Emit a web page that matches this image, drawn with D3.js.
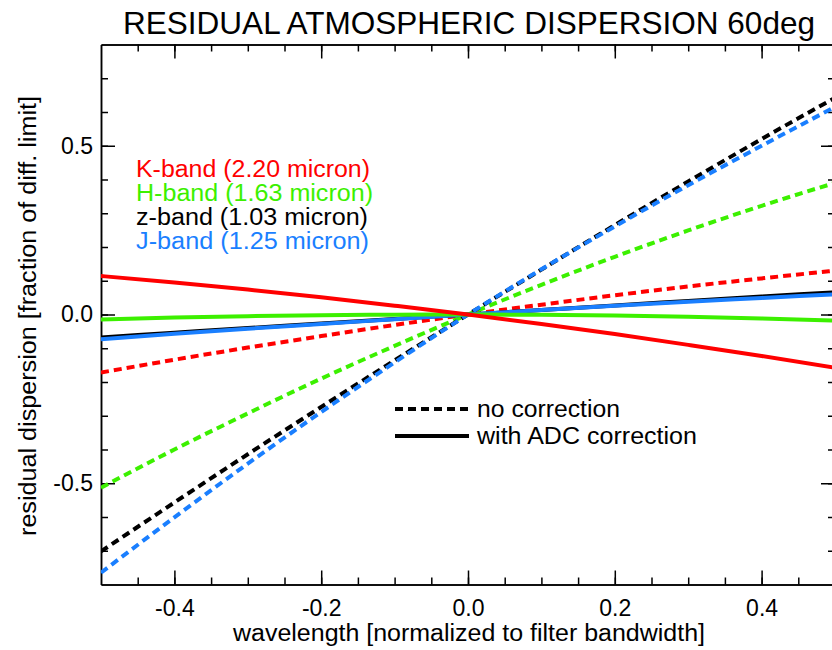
<!DOCTYPE html>
<html>
<head>
<meta charset="utf-8">
<script src="https://cdn.jsdelivr.net/npm/d3@7"></script>
<style>
  html, body { margin: 0; padding: 0; background: #fff; }
  svg { display: block; font-family: "Liberation Sans", Arial, Helvetica, sans-serif; }
  .axis path, .axis line { stroke: #000; stroke-width: 1.5; }
  .axis text { font-size: 23px; fill: #000; }
</style>
</head>
<body>
<svg id="chart" width="832" height="650"></svg>
<script>
// Wellenlaenge (normiert auf Filterbandbreite)
const wavelength = [-0.5, -0.4, -0.3, -0.2, -0.1, 0.0, 0.1, 0.2, 0.3, 0.4, 0.5];

// ohne Korrektur (gestrichelt)
const kNoCorr = [-0.172, -0.134, -0.098, -0.064, -0.031, 0, 0.029, 0.057, 0.083, 0.107, 0.130];
const hNoCorr = [-0.513, -0.400, -0.293, -0.190, -0.093, 0, 0.088, 0.171, 0.249, 0.322, 0.390];
const zNoCorr = [-0.702, -0.557, -0.414, -0.274, -0.136, 0, 0.133, 0.265, 0.394, 0.520, 0.642];
const jNoCorr = [-0.765, -0.601, -0.442, -0.289, -0.142, 0, 0.134, 0.261, 0.383, 0.500, 0.615];

// mit ADC-Korrektur (durchgezogen)
const kAdc = [0.114, 0.095, 0.074, 0.051, 0.026, 0, -0.028, -0.058, -0.090, -0.123, -0.158];
const hAdc = [-0.015, -0.009, -0.005, -0.002, -0.0005, 0, -0.001, -0.003, -0.007, -0.012, -0.018];
const zAdc = [-0.068, -0.054, -0.040, -0.027, -0.013, 0, 0.013, 0.027, 0.040, 0.053, 0.066];
const jAdc = [-0.073, -0.057, -0.042, -0.028, -0.014, 0, 0.013, 0.026, 0.038, 0.049, 0.060];

const bandLabels = ['K-band (2.20 micron)', 'H-band (1.63 micron)', 'z-band (1.03 micron)', 'J-band (1.25 micron)'];
const bandColors = ['#ff0000', '#3cf000', '#000000', '#1a7fff'];

const xMajor = [-0.4, -0.2, 0.0, 0.2, 0.4];
const xMinor = d3.range(-0.45, 0.5, 0.05);
const yMajor = [-0.5, 0.0, 0.5];
const yMinor = d3.range(-0.7, 0.8, 0.1);

const svg = d3.select('#chart');
const margin = { left: 101, right: 835, top: 44.5, bottom: 584.5 };

// Skalen
const x = d3.scaleLinear().domain([-0.5, 0.5]).range([margin.left, margin.right]);
const y = d3.scaleLinear().domain([-0.8, 0.8]).range([margin.bottom, margin.top]);

// Clip
svg.append('clipPath').attr('id', 'clip')
  .append('rect')
  .attr('x', margin.left).attr('y', margin.top)
  .attr('width', margin.right - margin.left)
  .attr('height', margin.bottom - margin.top);

const fmt = d => d.toFixed(1);

// Achsen
function addAxis(axis, transform) {
  svg.append('g').attr('class', 'axis').attr('transform', transform).call(axis);
}
addAxis(d3.axisBottom(x).tickValues(xMinor).tickSize(-7).tickSizeOuter(0).tickFormat(''), `translate(0,${margin.bottom})`);
addAxis(d3.axisBottom(x).tickValues(xMajor).tickSize(-14).tickSizeOuter(0).tickPadding(15).tickFormat(fmt), `translate(0,${margin.bottom})`);
addAxis(d3.axisTop(x).tickValues(xMinor).tickSize(-7).tickSizeOuter(0).tickFormat(''), `translate(0,${margin.top})`);
addAxis(d3.axisTop(x).tickValues(xMajor).tickSize(-14).tickSizeOuter(0).tickFormat(''), `translate(0,${margin.top})`);
addAxis(d3.axisLeft(y).tickValues(yMinor).tickSize(-7).tickSizeOuter(0).tickFormat(''), `translate(${margin.left},0)`);
addAxis(d3.axisLeft(y).tickValues(yMajor).tickSize(-14).tickSizeOuter(0).tickPadding(8).tickFormat(fmt), `translate(${margin.left},0)`);
addAxis(d3.axisRight(y).tickValues(yMinor).tickSize(-7).tickSizeOuter(0).tickFormat(''), `translate(${margin.right},0)`);
addAxis(d3.axisRight(y).tickValues(yMajor).tickSize(-14).tickSizeOuter(0).tickFormat(''), `translate(${margin.right},0)`);

// Linien
const line = d3.line()
  .x(d => x(d[0]))
  .y(d => y(d[1]))
  .curve(d3.curveMonotoneX);

const plot = svg.append('g').attr('clip-path', 'url(#clip)');

const dashed = [
  { v: kNoCorr, c: bandColors[0] },
  { v: hNoCorr, c: bandColors[1] },
  { v: zNoCorr, c: bandColors[2] },
  { v: jNoCorr, c: bandColors[3] }
];
const solid = [
  { v: zAdc, c: bandColors[2] },
  { v: jAdc, c: bandColors[3] },
  { v: hAdc, c: bandColors[1] },
  { v: kAdc, c: bandColors[0] }
];

dashed.forEach(s => {
  plot.append('path')
    .attr('d', line(wavelength.map((w, i) => [w, s.v[i]])))
    .attr('fill', 'none')
    .attr('stroke', s.c)
    .attr('stroke-width', 4)
    .attr('stroke-dasharray', '8,5');
});
solid.forEach(s => {
  plot.append('path')
    .attr('d', line(wavelength.map((w, i) => [w, s.v[i]])))
    .attr('fill', 'none')
    .attr('stroke', s.c)
    .attr('stroke-width', 4);
});

// Titel
svg.append('text')
  .attr('x', 469)
  .attr('y', 34)
  .attr('text-anchor', 'middle')
  .attr('textLength', 692)
  .attr('lengthAdjust', 'spacingAndGlyphs')
  .style('font-size', '32px')
  .text('RESIDUAL ATMOSPHERIC DISPERSION 60deg');

// Achsenbeschriftungen
svg.append('text')
  .attr('x', 469)
  .attr('y', 641)
  .attr('text-anchor', 'middle')
  .attr('textLength', 472)
  .attr('lengthAdjust', 'spacingAndGlyphs')
  .style('font-size', '23px')
  .text('wavelength [normalized to filter bandwidth]');

svg.append('text')
  .attr('transform', 'translate(36,316) rotate(-90)')
  .attr('text-anchor', 'middle')
  .attr('textLength', 440)
  .attr('lengthAdjust', 'spacingAndGlyphs')
  .style('font-size', '23px')
  .text('residual dispersion [fraction of diff. limit]');

// Legende Baender
const bandWidths = [234, 237, 232, 233];
bandLabels.forEach((t, i) => {
  svg.append('text')
    .attr('x', 136)
    .attr('y', 177 + i * 24)
    .attr('textLength', bandWidths[i])
    .attr('lengthAdjust', 'spacingAndGlyphs')
    .style('font-size', '23px')
    .style('fill', bandColors[i])
    .text(t);
});

// Legende Linienstil
const styleLegend = [
  { label: 'no correction', dash: '8,5', y: 409, w: 143 },
  { label: 'with ADC correction', dash: null, y: 436, w: 220 }
];
styleLegend.forEach(s => {
  svg.append('line')
    .attr('x1', 395).attr('x2', 469)
    .attr('y1', s.y).attr('y2', s.y)
    .attr('stroke', '#000')
    .attr('stroke-width', 4)
    .attr('stroke-dasharray', s.dash);
  svg.append('text')
    .attr('x', 477)
    .attr('y', s.y + 8)
    .attr('textLength', s.w)
    .attr('lengthAdjust', 'spacingAndGlyphs')
    .style('font-size', '23px')
    .text(s.label);
});
</script>
</body>
</html>
